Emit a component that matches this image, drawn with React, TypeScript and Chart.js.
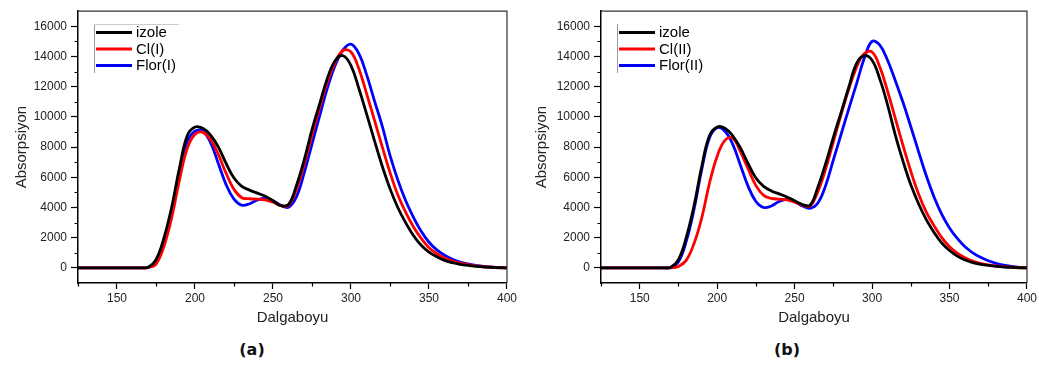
import React, { useEffect, useRef } from 'react';
import { Chart, registerables } from 'chart.js';

Chart.register(...registerables);

// Wavelength grid (nm)
const WAVELENGTHS = [125, 160, 165, 170, 175, 180, 185, 190, 195, 200, 205, 210, 215, 220, 225, 230, 235, 240, 245, 250, 255, 260, 265, 270, 275, 280, 285, 290, 295, 300, 305, 310, 315, 320, 325, 330, 335, 340, 345, 350, 355, 360, 365, 370, 375, 380, 385, 390, 395, 400];

// Panel (a)
const IZOLE_A = [0, 0, 0, 50, 550, 1950, 4000, 6600, 8750, 9330, 9250, 8800, 8000, 6900, 5950, 5400, 5150, 4950, 4750, 4450, 4120, 4200, 5450, 7150, 9150, 10900, 12600, 13750, 14050, 13400, 11900, 10200, 8450, 6750, 5250, 4000, 3000, 2150, 1500, 1050, 740, 500, 350, 240, 160, 100, 60, 30, 10, 0];
const CL_I = [0, 0, 0, 20, 250, 1400, 3300, 5800, 7900, 8850, 8980, 8500, 7500, 6250, 5200, 4650, 4580, 4550, 4500, 4350, 4120, 4150, 5200, 6850, 8800, 10650, 12350, 13650, 14400, 14300, 13200, 11540, 9800, 8030, 6330, 4840, 3700, 2730, 1960, 1340, 950, 660, 460, 310, 210, 130, 80, 45, 20, 5];
const FLOR_I = [0, 0, 0, 40, 420, 1750, 3750, 6350, 8350, 9050, 9050, 8300, 6900, 5500, 4550, 4150, 4250, 4500, 4600, 4450, 4150, 4020, 4700, 6300, 8200, 10100, 11950, 13450, 14450, 14820, 14200, 12800, 11080, 9400, 7450, 5830, 4460, 3360, 2420, 1700, 1190, 840, 570, 380, 260, 170, 100, 60, 25, 5];

// Panel (b)
const IZOLE_B = [0, 0, 0, 50, 550, 2000, 4100, 6700, 8750, 9330, 9250, 8750, 7950, 6900, 5950, 5400, 5100, 4900, 4700, 4450, 4200, 4150, 5350, 6900, 8650, 10300, 11980, 13550, 14050, 13750, 12500, 10800, 8800, 7050, 5500, 4250, 3200, 2350, 1650, 1150, 780, 520, 350, 240, 160, 100, 60, 30, 10, 0];
const CL_II = [0, 0, 0, 5, 100, 500, 1600, 3300, 5600, 7400, 8450, 8600, 7700, 6550, 5450, 4800, 4600, 4550, 4500, 4350, 4150, 4100, 5050, 6550, 8350, 10150, 11850, 13300, 14200, 14300, 13300, 11700, 9900, 8100, 6400, 4900, 3700, 2800, 2000, 1400, 980, 670, 450, 300, 200, 130, 80, 45, 20, 5];
const FLOR_II = [0, 0, 0, 30, 400, 1750, 3850, 6500, 8600, 9280, 9050, 8200, 6800, 5400, 4400, 4000, 4100, 4400, 4540, 4400, 4100, 3950, 4300, 5450, 7150, 8850, 10550, 12200, 13900, 15000, 14750, 13750, 12400, 10950, 9350, 7700, 6100, 4700, 3550, 2650, 1950, 1400, 1000, 700, 470, 300, 180, 100, 40, 10];

const LABELS_A = ['izole', 'Cl(I)', 'Flor(I)'];
const LABELS_B = ['izole', 'Cl(II)', 'Flor(II)'];
const COLORS = ['#000000', '#ff0000', '#0000ff'];

const X_MAJOR = [150, 200, 250, 300, 350, 400];
const X_MINOR = [125, 175, 225, 275, 325, 375];
const Y_MAJOR = [0, 2000, 4000, 6000, 8000, 10000, 12000, 14000, 16000];
const Y_MINOR = [1000, 3000, 5000, 7000, 9000, 11000, 13000, 15000];

const X_TITLE = 'Dalgaboyu';
const Y_TITLE = 'Absorpsiyon';

const SANS = '"Liberation Sans", Arial, sans-serif';

type PanelProps = {
  left: number;
  width: number;
  yAxisWidth: number;
  padRight: number;
  series: number[][];
  labels: string[];
  legendTopLine: boolean;
  caption: string;
  captionCenter: number;
};

function Panel(props: PanelProps) {
  const ref = useRef<HTMLCanvasElement | null>(null);
  const H = 330;

  useEffect(() => {
    if (!ref.current) return;
    const framePlugin = {
      id: 'frame',
      afterDraw(chart: any) {
        const ctx = chart.ctx;
        const { left, right, top, bottom } = chart.chartArea;
        const xs = chart.scales.x;
        const ys = chart.scales.y;
        ctx.save();
        // top & right frame
        ctx.strokeStyle = '#333';
        ctx.lineWidth = 1.2;
        ctx.beginPath();
        ctx.moveTo(left, top);
        ctx.lineTo(right, top);
        ctx.lineTo(right, bottom);
        ctx.stroke();
        // minor ticks
        ctx.strokeStyle = '#000';
        ctx.lineWidth = 1.2;
        ctx.beginPath();
        X_MINOR.forEach((v) => {
          const px = Math.round(xs.getPixelForValue(v)) + 0.5;
          ctx.moveTo(px, bottom);
          ctx.lineTo(px, bottom + 3.5);
        });
        Y_MINOR.forEach((v) => {
          const py = Math.round(ys.getPixelForValue(v)) + 0.5;
          ctx.moveTo(left, py);
          ctx.lineTo(left - 3.5, py);
        });
        ctx.stroke();
        // legend
        const lx = left + 16;
        const ly0 = 24;
        ctx.strokeStyle = '#999';
        ctx.lineWidth = 1;
        ctx.beginPath();
        ctx.moveTo(lx + 0.5, ly0);
        ctx.lineTo(lx + 0.5, ly0 + 49);
        ctx.stroke();
        if (props.legendTopLine) {
          ctx.strokeStyle = '#ccc';
          ctx.beginPath();
          ctx.moveTo(lx, ly0 + 0.5);
          ctx.lineTo(lx + 85, ly0 + 0.5);
          ctx.stroke();
        }
        ctx.font = '15px ' + SANS;
        ctx.textBaseline = 'middle';
        ctx.textAlign = 'left';
        chart.data.datasets.forEach((ds: any, i: number) => {
          const y = 32.5 + i * 16.5;
          ctx.strokeStyle = ds.borderColor;
          ctx.lineWidth = 3;
          ctx.beginPath();
          ctx.moveTo(lx + 2, y);
          ctx.lineTo(lx + 38, y);
          ctx.stroke();
          ctx.fillStyle = '#000';
          ctx.fillText(ds.label, lx + 42, y + 0.5);
        });
        ctx.restore();
      },
    };

    const chart = new Chart(ref.current, {
      type: 'line',
      data: {
        datasets: props.series.map((s, i) => ({
          label: props.labels[i],
          data: WAVELENGTHS.map((x, j) => ({ x, y: s[j] })),
          borderColor: COLORS[i],
          backgroundColor: COLORS[i],
          borderWidth: 2.8,
          pointRadius: 0,
          tension: 0.4,
          fill: false,
        })),
      },
      options: {
        animation: false,
        responsive: false,
        maintainAspectRatio: false,
        layout: { padding: { left: 0, right: props.padRight, top: 9, bottom: 0 } },
        plugins: { legend: { display: false }, tooltip: { enabled: false } },
        scales: {
          x: {
            type: 'linear',
            min: 125,
            max: 400,
            afterBuildTicks: (s: any) => {
              s.ticks = X_MAJOR.map((v) => ({ value: v }));
            },
            afterFit: (s: any) => {
              s.height = 47;
            },
            ticks: {
              autoSkip: false,
              maxRotation: 0,
              padding: 2,
              color: '#222',
              font: { family: SANS, size: 12 },
              callback: (v: any) => String(v),
            },
            grid: {
              drawOnChartArea: false,
              drawTicks: true,
              tickLength: 6,
              tickColor: '#000',
              tickWidth: 1.2,
            },
            border: { display: true, color: '#000', width: 1.5 },
            title: {
              display: true,
              text: X_TITLE,
              color: '#222',
              font: { family: SANS, size: 15 },
              padding: { top: 0, bottom: 3 },
            },
          },
          y: {
            type: 'linear',
            min: -1000,
            max: 17000,
            afterBuildTicks: (s: any) => {
              s.ticks = Y_MAJOR.map((v) => ({ value: v }));
            },
            afterFit: (s: any) => {
              s.width = props.yAxisWidth;
            },
            ticks: {
              autoSkip: false,
              padding: 4,
              color: '#222',
              font: { family: SANS, size: 12 },
              callback: (v: any) => String(v),
            },
            grid: {
              drawOnChartArea: false,
              drawTicks: true,
              tickLength: 7,
              tickColor: '#000',
              tickWidth: 1.2,
            },
            border: { display: true, color: '#000', width: 1.5 },
            title: {
              display: true,
              text: Y_TITLE,
              color: '#222',
              font: { family: SANS, size: 15 },
              padding: { top: 13, bottom: 0 },
            },
          },
        },
      },
      plugins: [framePlugin],
    });
    return () => chart.destroy();
  }, []);

  return (
    <div style={{ position: 'absolute', left: props.left, top: 0, width: props.width, height: 365 }}>
      <canvas ref={ref} width={props.width} height={H} style={{ width: props.width, height: H, display: 'block' }} />
      <div
        style={{
          position: 'absolute',
          left: props.captionCenter - 40,
          width: 80,
          top: 339,
          textAlign: 'center',
          fontFamily: '"DejaVu Sans", Verdana, sans-serif',
          fontWeight: 'bold',
          fontSize: 16,
          lineHeight: '22px',
          color: '#111',
        }}
      >
        {props.caption}
      </div>
    </div>
  );
}

export default function App() {
  return (
    <div style={{ position: 'absolute', left: 0, top: 0, width: 1039, height: 365, background: '#fff', overflow: 'hidden' }}>
      <Panel left={0} width={519} yAxisWidth={78} padRight={11} series={[IZOLE_A, CL_I, FLOR_I]} labels={LABELS_A} legendTopLine={true} caption="(a)" captionCenter={252} />
      <Panel left={520} width={519} yAxisWidth={81} padRight={10} series={[IZOLE_B, CL_II, FLOR_II]} labels={LABELS_B} legendTopLine={false} caption="(b)" captionCenter={267} />
    </div>
  );
}
